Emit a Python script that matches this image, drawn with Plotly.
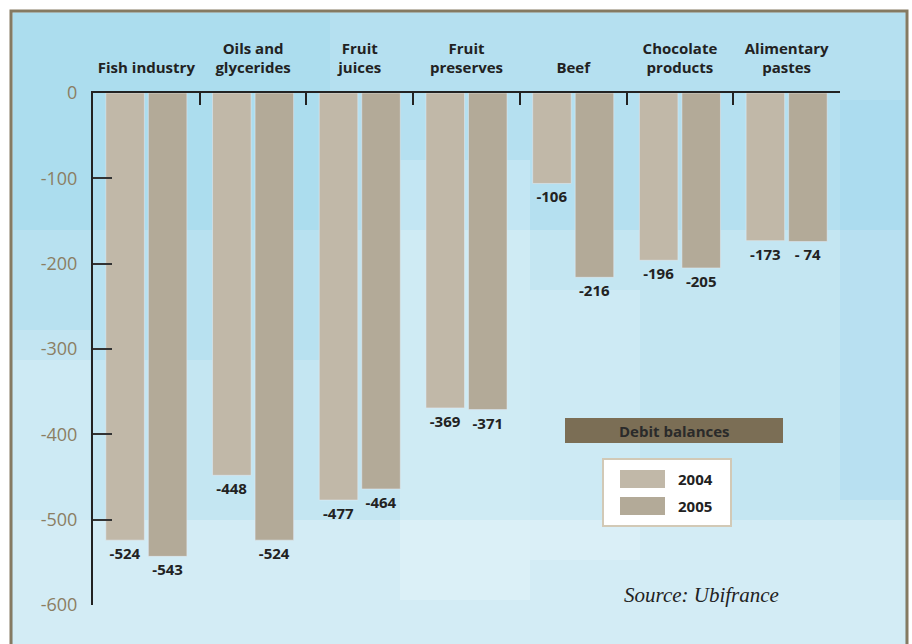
import plotly.graph_objects as go

# ---------------- data ----------------
categories = ["Fish industry", "Oils and glycerides", "Fruit juices", "Fruit preserves",
              "Beef", "Chocolate products", "Alimentary pastes"]
category_labels = ["Fish industry", "Oils and<br>glycerides", "Fruit<br>juices", "Fruit<br>preserves",
                   "Beef", "Chocolate<br>products", "Alimentary<br>pastes"]
values_2004 = [-524, -448, -477, -369, -106, -196, -173]
values_2005 = [-543, -524, -464, -371, -216, -205, -174]
labels_2004 = ["-524", "-448", "-477", "-369", "-106", "-196", "-173"]
labels_2005 = ["-543", "-524", "-464", "-371", "-216", "-205", "- 74"]
y_tickvals = [0, -100, -200, -300, -400, -500, -600]
y_ticktext = ["0", "-100", "-200", "-300", "-400", "-500", "-600"]
series_names = ["2004", "2005"]
legend_title = "Debit balances"
source_text = "Source: Ubifrance"

# ---------------- style ----------------
C2004 = "#c1b8a8"
C2005 = "#b3aa98"
DARK = "#222222"
OLIVE = "#857a62"
W, H = 912, 644
ML, MR, MT, MB = 93, 72, 93, 39
PW, PH = W - ML - MR, H - MT - MB


def px(x):
    return (x - ML) / PW


def py(y):
    return (H - MB - y) / PH


fig = go.Figure()
fig.add_trace(go.Bar(x=categories, y=values_2004, name=series_names[0], marker_color=C2004,
                     text=labels_2004, textposition="outside", cliponaxis=False,
                     textfont=dict(family="Open Sans", size=15, color=DARK, weight="bold"),
                     showlegend=False))
fig.add_trace(go.Bar(x=categories, y=values_2005, name=series_names[1], marker_color=C2005,
                     text=labels_2005, textposition="outside", cliponaxis=False,
                     textfont=dict(family="Open Sans", size=15, color=DARK, weight="bold"),
                     showlegend=False))

shapes = []
# frame with light-blue photo-like background
shapes.append(dict(type="rect", xref="paper", yref="paper", x0=px(11), x1=px(907), y0=py(660), y1=py(11),
                   fillcolor="#c4e6f2", line=dict(color=OLIVE, width=3), layer="below"))
# soft texture bands
bands = [
    (13, 13, 905, 230, "rgba(150,212,236,0.32)"),
    (13, 13, 330, 360, "rgba(140,208,234,0.22)"),
    (400, 160, 530, 600, "rgba(255,255,255,0.20)"),
    (530, 290, 640, 560, "rgba(255,255,255,0.16)"),
    (13, 520, 905, 660, "rgba(255,255,255,0.26)"),
    (840, 100, 905, 500, "rgba(140,205,236,0.22)"),
    (13, 330, 90, 520, "rgba(255,255,255,0.16)"),
]
for x0, y0, x1, y1, c in bands:
    shapes.append(dict(type="rect", xref="paper", yref="paper", x0=px(x0), x1=px(x1), y0=py(y1), y1=py(y0),
                       fillcolor=c, line=dict(width=0), layer="below"))
# legend header bar
shapes.append(dict(type="rect", xref="paper", yref="paper", x0=px(565), x1=px(783), y0=py(443), y1=py(418),
                   fillcolor="#7b6e55", line=dict(width=0)))
# legend box
shapes.append(dict(type="rect", xref="paper", yref="paper", x0=px(603), x1=px(731), y0=py(526), y1=py(459),
                   fillcolor="#ffffff", line=dict(color="#d2c9b6", width=2)))
shapes.append(dict(type="rect", xref="paper", yref="paper", x0=px(620), x1=px(665), y0=py(488), y1=py(470),
                   fillcolor=C2004, line=dict(width=0)))
shapes.append(dict(type="rect", xref="paper", yref="paper", x0=px(620), x1=px(665), y0=py(515), y1=py(497),
                   fillcolor=C2005, line=dict(width=0)))

annotations = [
    dict(xref="paper", yref="paper", x=px(674), y=py(431), text=legend_title, showarrow=False,
         font=dict(family="Open Sans", size=15, color="#2a2a2a", weight="bold"), xanchor="center", yanchor="middle"),
    dict(xref="paper", yref="paper", x=px(676), y=py(479), text=series_names[0], showarrow=False,
         font=dict(family="Open Sans", size=15, color=DARK, weight="bold"), xanchor="left", yanchor="middle"),
    dict(xref="paper", yref="paper", x=px(676), y=py(506), text=series_names[1], showarrow=False,
         font=dict(family="Open Sans", size=15, color=DARK, weight="bold"), xanchor="left", yanchor="middle"),
    dict(xref="paper", yref="paper", x=px(781), y=py(595), text=source_text, showarrow=False,
         font=dict(family="Liberation Serif", size=21, color="#222222", style="italic"),
         xanchor="right", yanchor="middle"),
]

fig.update_layout(
    width=W, height=H,
    margin=dict(l=ML, r=MR, t=MT, b=MB, pad=0),
    paper_bgcolor="#ffffff", plot_bgcolor="rgba(0,0,0,0)",
    barmode="group", bargap=0.203, bargroupgap=0.094,
    shapes=shapes, annotations=annotations, showlegend=False,
    font=dict(family="Open Sans"),
)
fig.update_xaxes(type="category", side="top", tickmode="array", tickvals=categories, ticktext=category_labels,
                 tickson="boundaries", ticks="inside", ticklen=12, tickwidth=2, tickcolor=DARK,
                 showline=True, linecolor=DARK, linewidth=2, showgrid=False, zeroline=False,
                 tickfont=dict(family="Open Sans", size=15, color=DARK, weight="bold"),
                 tickangle=0, automargin=False,
                 ticklabelstandoff=12, range=[-0.5, 6.5])
fig.update_yaxes(range=[-600, 0], tickmode="array", tickvals=y_tickvals, ticktext=y_ticktext,
                 ticks="inside", ticklen=19, tickwidth=2, tickcolor="#333333",
                 showline=True, linecolor=DARK, linewidth=2, showgrid=False, zeroline=False,
                 tickfont=dict(family="Open Sans", size=18, color="#8b7e63"),
                 automargin=False, ticklabelstandoff=10)

fig.write_html("out.html")
